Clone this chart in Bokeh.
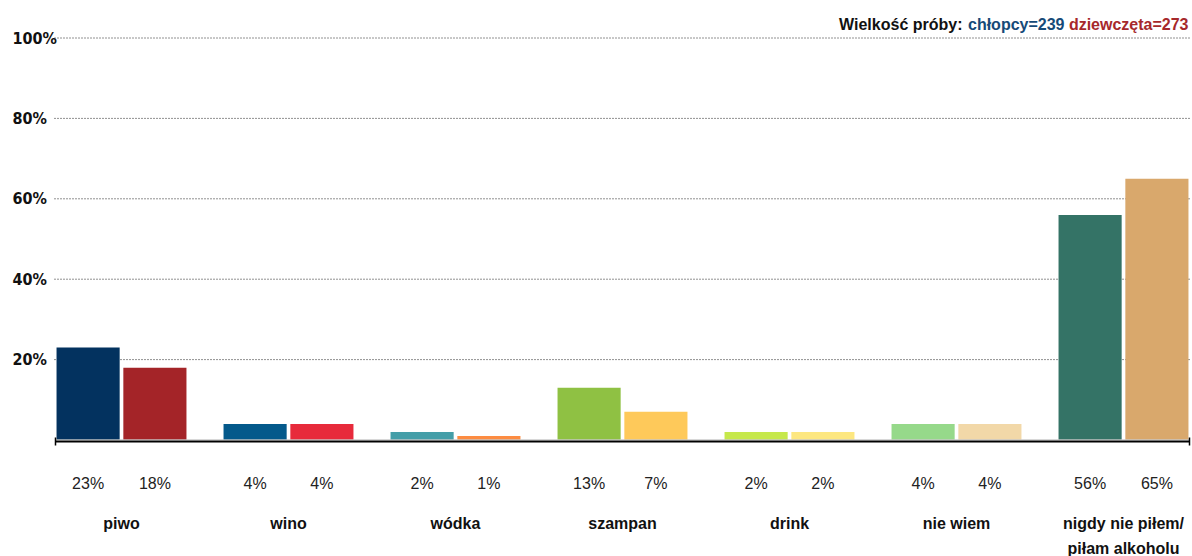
from bokeh.plotting import figure
from bokeh.models import ColumnDataSource, Range1d
from bokeh.core.properties import value
from bokeh.embed import file_html
from bokeh.resources import INLINE

# ---- data ----
categories = ["piwo", "wino", "wódka", "szampan", "drink", "nie wiem",
              "nigdy nie piłem/\npiłam alkoholu"]
boys = [23, 4, 2, 13, 2, 4, 56]
girls = [18, 4, 1, 7, 2, 4, 65]
boys_colors = ["#03325f", "#04598b", "#449ea8", "#8fc143", "#c6e84b", "#96d98a", "#347366"]
girls_colors = ["#a42428", "#e72a3b", "#fd8c41", "#fec95a", "#fde780", "#f2d8a8", "#d9a86c"]
y_ticks = [20, 40, 60, 80, 100]
y_tick_labels = ["20%", "40%", "60%", "80%", "100%"]
header_texts = ["Wielkość próby:", "chłopcy=239", "dziewczęta=273"]
header_colors = ["#111111", "#164a78", "#a6282b"]

# ---- geometry (styling) ----
W, H = 1192, 556
SX = 167.0          # px per category unit
X0 = 121.0          # px of first group centre
SY = 4.02           # px per percent
Y0 = 439.5          # px (from top) of zero line


def dx(px):
    return (px - X0) / SX


def dy(py):
    return (Y0 - py) / SY


p = figure(width=W, height=H, output_backend="svg", toolbar_location=None,
           x_axis_type=None, y_axis_type=None,
           x_range=Range1d(dx(0), dx(W)), y_range=Range1d(dy(H), dy(0)),
           min_border=0, outline_line_color=None)
p.grid.visible = False
p.background_fill_color = "white"

n = len(categories)
xs = list(range(n))
off = 0.2
bw = 0.378

# gridlines (dotted)
gx0 = dx(54)
gx1 = dx(1190)
p.segment(x0=[gx0] * len(y_ticks), x1=[gx1] * len(y_ticks), y0=y_ticks, y1=y_ticks,
          line_color="#222222", line_width=1, line_dash="1 2")

# bars
src_b = ColumnDataSource(dict(x=[i - off for i in xs], top=boys, color=boys_colors,
                              lab=[f"{v}%" for v in boys]))
src_g = ColumnDataSource(dict(x=[i + off for i in xs], top=girls, color=girls_colors,
                              lab=[f"{v}%" for v in girls]))
p.vbar(x="x", top="top", bottom=0, width=bw, fill_color="color", line_color=None, source=src_b)
p.vbar(x="x", top="top", bottom=0, width=bw, fill_color="color", line_color=None, source=src_g)

# zero axis line with end ticks
ax0 = dx(55)
ax1 = dx(1189)
p.segment(x0=[ax0], x1=[ax1], y0=[dy(439.3)], y1=[dy(439.3)], line_color="#c8c8c8", line_width=1)
p.segment(x0=[ax0], x1=[ax1], y0=[dy(441)], y1=[dy(441)], line_color="#000000", line_width=2)
p.segment(x0=[ax0, ax1], x1=[ax0, ax1], y0=[dy(437), dy(437)], y1=[dy(445), dy(445)],
          line_color="#000000", line_width=1.5)

# y tick labels
p.text(x=[dx(12)] * len(y_ticks), y=y_ticks, text=y_tick_labels,
       text_font=value("DejaVu Sans Condensed"), text_font_size="16px",
       text_font_style="bold", text_color="#111111", text_align="left",
       text_baseline="middle")

# value labels under bars
val_y = dy(483)
for src in (src_b, src_g):
    p.text(x="x", y=val_y, text="lab", source=src, text_font=value("Liberation Sans"),
           text_font_size="16px", text_color="#222222", text_align="center",
           text_baseline="middle")

# category labels (one glyph row per text line)
cx, cy, ct = [], [], []
for i, c in enumerate(categories):
    for k, line in enumerate(c.split("\n")):
        cx.append(i)
        cy.append(dy(523 + 25 * k))
        ct.append(line)
p.text(x=cx, y=cy, text=ct, text_font=value("Liberation Sans"),
       text_font_size="16px", text_font_style="bold", text_color="#111111",
       text_align="center", text_baseline="middle")

# sample size header (right-aligned pieces)
hx = [dx(962), dx(1064), dx(1188)]
p.text(x=hx, y=[dy(24)] * 3, text=header_texts, text_color=header_colors,
       text_font=value("Liberation Sans"), text_font_size="16px",
       text_font_style="bold", text_align="right", text_baseline="alphabetic")

open("out.html", "w").write(file_html(p, INLINE))
